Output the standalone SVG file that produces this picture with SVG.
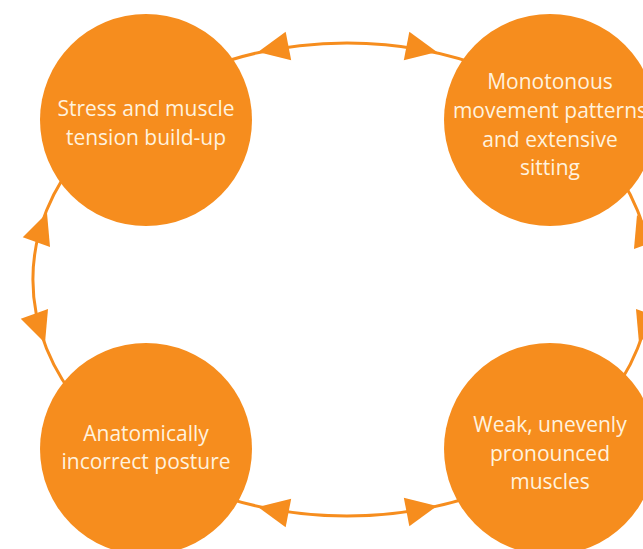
<svg xmlns="http://www.w3.org/2000/svg" width="643" height="549" viewBox="0 0 643 549">
  <style>
    .conn { fill: none; stroke: #F68D1E; stroke-width: 3; }
    .arrow { fill: #F68D1E; }
    .node circle { fill: #F68D1E; }
    .node text { fill: #FFF2DE; font-family: "Open Sans", "Noto Sans", sans-serif; font-size: 21px; text-anchor: middle; }
  </style>
  <defs>
    <path id="ah" d="M0,0 L31,-14.5 L31,14.5 Z"/>
  </defs>
  <g id="connectors">
    <path class="conn" d="M200,70.7 A313,236.5 0 0,1 494,70.7"/>
    <path class="conn" d="M200,488.3 A313,236.5 0 0,0 494,488.3"/>
    <path class="conn" d="M84,150 A313,236.5 0 0,0 84,409"/>
    <path class="conn" d="M600,150 A313,236.5 0 0,1 600,409"/>
    <use href="#ah" class="arrow" transform="translate(258,52) rotate(-11)"/>
    <use href="#ah" class="arrow" transform="translate(437,52) rotate(191)"/>
    <use href="#ah" class="arrow" transform="translate(258,507) rotate(11)"/>
    <use href="#ah" class="arrow" transform="translate(437,506) rotate(169)"/>
    <use href="#ah" class="arrow" transform="translate(47,213) rotate(110)"/>
    <use href="#ah" class="arrow" transform="translate(45,343) rotate(-110)"/>
    <use href="#ah" class="arrow" transform="translate(637,215) rotate(70)"/>
    <use href="#ah" class="arrow" transform="translate(639,343) rotate(-70)"/>
  </g>
  <g id="node-stress" class="node">
    <circle cx="146" cy="120" r="106"/>
    <text x="146" y="116">Stress and muscle</text>
    <text x="146" y="145">tension build-up</text>
  </g>
  <g id="node-monotonous" class="node">
    <circle cx="550" cy="120" r="106"/>
    <text x="550" y="89">Monotonous</text>
    <text x="550" y="118">movement patterns</text>
    <text x="550" y="147">and extensive</text>
    <text x="550" y="175">sitting</text>
  </g>
  <g id="node-weak" class="node">
    <circle cx="550" cy="449" r="106"/>
    <text x="550" y="432">Weak, unevenly</text>
    <text x="550" y="461">pronounced</text>
    <text x="550" y="489">muscles</text>
  </g>
  <g id="node-posture" class="node">
    <circle cx="146" cy="449" r="106"/>
    <text x="146" y="441">Anatomically</text>
    <text x="146" y="469">incorrect posture</text>
  </g>
</svg>
